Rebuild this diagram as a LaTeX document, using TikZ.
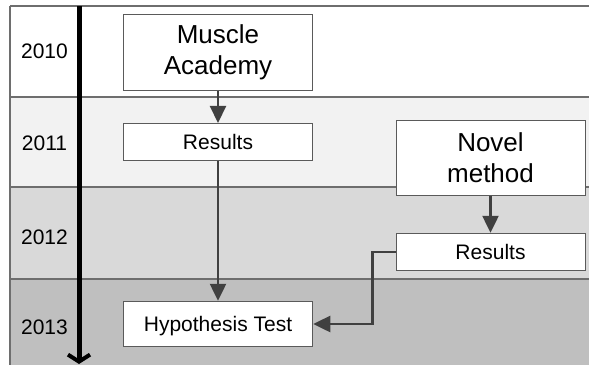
\documentclass[tikz,border=0pt]{standalone}
\usepackage{fontspec}
\setmainfont{Liberation Sans}
\usetikzlibrary{arrows.meta}
\definecolor{bandA}{HTML}{FFFFFF}
\definecolor{bandB}{HTML}{F2F2F2}
\definecolor{bandC}{HTML}{D9D9D9}
\definecolor{bandD}{HTML}{BFBFBF}
\definecolor{rulegray}{HTML}{6E6E6E}
\definecolor{boxline}{HTML}{5A5A5A}
\definecolor{arrowgray}{HTML}{404040}
\tikzset{
  band/.style={draw=none},
  sep/.style={draw=rulegray, line width=1.5pt},
  yearlabel/.style={anchor=base, inner sep=0pt, font=\fontsize{21}{25}\selectfont},
  boxbase/.style={draw=boxline, fill=white, line width=1pt, inner sep=0pt, align=center},
  bigbox/.style={boxbase, font=\fontsize{26}{31}\selectfont},
  smallbox/.style={boxbase, font=\fontsize{21}{25}\selectfont, text depth=0pt},
  flow/.style={draw=arrowgray, line width=2.5pt, -{Triangle[length=17pt,width=16pt]}},
  timeline/.style={draw=black, line width=5pt, -{Straight Barb[length=7pt,width=22pt,line width=4pt]}}
}
\begin{document}
\begin{tikzpicture}[x=1pt,y=-1pt]
\useasboundingbox (0,0) rectangle (589,365);
% bands
\fill[bandA] (10,6) rectangle (589,97);
\fill[bandB] (10,97) rectangle (589,187);
\fill[bandC] (10,187) rectangle (589,279);
\fill[bandD] (10,279) rectangle (589,365);
% separators
\draw[sep] (10,6) -- (589,6);
\draw[sep] (10,97) -- (589,97);
\draw[sep] (10,187) -- (589,187);
\draw[sep] (10,279) -- (589,279);
\draw[sep] (10,6) -- (10,365);
% years
\node[yearlabel] (y2010) at (44.5,58) {2010};
\node[yearlabel] (y2011) at (44.5,150) {2011};
\node[yearlabel] (y2012) at (44.5,244) {2012};
\node[yearlabel] (y2013) at (44.5,334) {2013};
% timeline
\coordinate (tltop) at (79,6);
\coordinate (tlbot) at (79,364);
\draw[timeline] (tltop) -- (tlbot);
% boxes
\node[bigbox, minimum width=189.5pt, minimum height=76pt] (ma) at (218,52) {Muscle\\Academy};
\node[smallbox, minimum width=189.5pt, minimum height=37.5pt] (r1) at (218,142.2) {Results};
\node[smallbox, minimum width=189.5pt, minimum height=45.5pt] (ht) at (218,324) {Hypothesis Test};
\node[bigbox, minimum width=189pt, minimum height=75pt] (nm) at (490.5,157.5) {Novel\\method};
\node[smallbox, minimum width=189pt, minimum height=37.5pt] (r2) at (490.5,252) {Results};
% connectors
\draw[flow] (ma) -- (r1);
\draw[flow] (r1) -- (ht);
\draw[flow] (nm) -- (r2);
\draw[flow] (r2.west) -- ++(-23,0) |- (ht.east);
\end{tikzpicture}
\end{document}
